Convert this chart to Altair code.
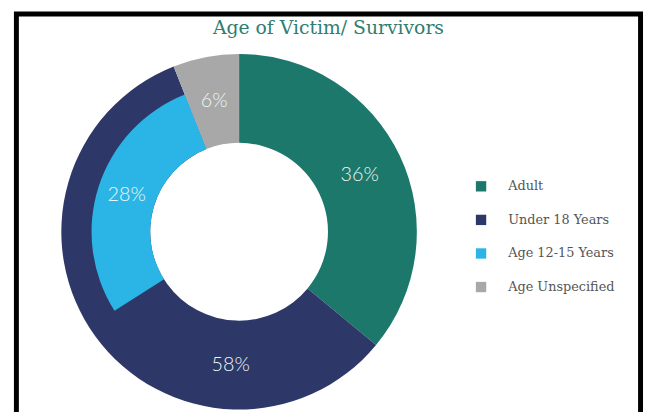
import altair as alt
import pandas as pd

# ---- data ----
ring_categories = ["Adult", "Under 18 Years", "Age Unspecified"]
ring_values = [36, 58, 6]
sub_category = "Age 12-15 Years"
sub_value = 28

legend_order = ["Adult", "Under 18 Years", "Age 12-15 Years", "Age Unspecified"]
colors = ["#1b786b", "#2e3868", "#2bb5e6", "#a8a8a8"]

# ---- tables built from the lists ----
starts, ends = [], []
acc = 0
for v in ring_values:
    starts.append(acc)
    acc += v
    ends.append(acc)
ring = pd.DataFrame({"cat": ring_categories, "value": ring_values,
                     "start": starts, "end": ends})
ring["label"] = ring["value"].astype(str) + "%"

# the 12-15 slice sits inside "Under 18", ending where "Age Unspecified" begins
sub_end = ring.loc[ring["cat"] == "Age Unspecified", "start"].iloc[0]
sub_start = sub_end - sub_value
sub = pd.DataFrame({"cat": [sub_category], "value": [sub_value],
                    "start": [sub_start], "end": [sub_end]})
sub["label"] = sub["value"].astype(str) + "%"
sub["mid"] = (sub["start"] + sub["end"]) / 2

# label angles: middle of the visible part of each ring slice
ring["vis_end"] = ring["end"]
ring.loc[ring["cat"] == "Under 18 Years", "vis_end"] = sub_start
ring["mid"] = (ring["start"] + ring["vis_end"]) / 2

W, H = 632, 404
CX, CY = 225.5, 220.5
R = 180
theta_scale = alt.Scale(domain=[0, 100])
color = alt.Color("cat:N", scale=alt.Scale(domain=legend_order, range=colors),
                  sort=legend_order,
                  legend=alt.Legend(title=None, orient="none", legendX=464, legendY=168,
                                    symbolType="square", symbolSize=110,
                                    symbolStrokeWidth=0, labelFont="DejaVu Serif",
                                    labelFontSize=13, labelColor="#555555",
                                    labelOffset=21, rowPadding=20, padding=0))

# decorative frame around the whole picture
frame = alt.Chart(pd.DataFrame({"f": [0]})).mark_rect(
    filled=False, stroke="#000000", strokeWidth=5).encode(
    x=alt.value(0), x2=alt.value(W), y=alt.value(0), y2=alt.value(H + 20))

ring_arc = alt.Chart(ring).mark_arc(x=CX, y=CY, innerRadius=R * 0.5, outerRadius=R).encode(
    theta=alt.Theta("start:Q", scale=theta_scale),
    theta2="end:Q",
    color=color,
)
sub_arc = alt.Chart(sub).mark_arc(x=CX, y=CY, innerRadius=R * 0.5, outerRadius=R * 0.83).encode(
    theta=alt.Theta("start:Q", scale=theta_scale),
    theta2="end:Q",
    color=color,
)
ring_text = alt.Chart(ring).mark_text(x=CX, y=CY, radius=R * 0.75, font="Lato",
                                      fontWeight=300, fontSize=20, color="#eef6f4").encode(
    theta=alt.Theta("mid:Q", scale=theta_scale),
    text="label:N",
)
sub_text = alt.Chart(sub).mark_text(x=CX, y=CY, radius=R * 0.665, font="Lato",
                                    fontWeight=300, fontSize=20, color="#eef6f4").encode(
    theta=alt.Theta("mid:Q", scale=theta_scale),
    text="label:N",
)

chart = alt.layer(frame, ring_arc, sub_arc, ring_text, sub_text).properties(
    width=W, height=H,
    autosize=alt.AutoSizeParams(type="none"),
    padding={"left": 8.5, "top": 3.5, "right": 3.5, "bottom": 0},
    title=alt.TitleParams("Age of Victim/ Survivors", font="DejaVu Serif", fontSize=19,
                          fontWeight="normal", color="#2f7d70", anchor="middle",
                          offset=-27),
).configure_view(stroke=None)

chart.save("out.html", embed_options={"renderer": "svg", "actions": False})
